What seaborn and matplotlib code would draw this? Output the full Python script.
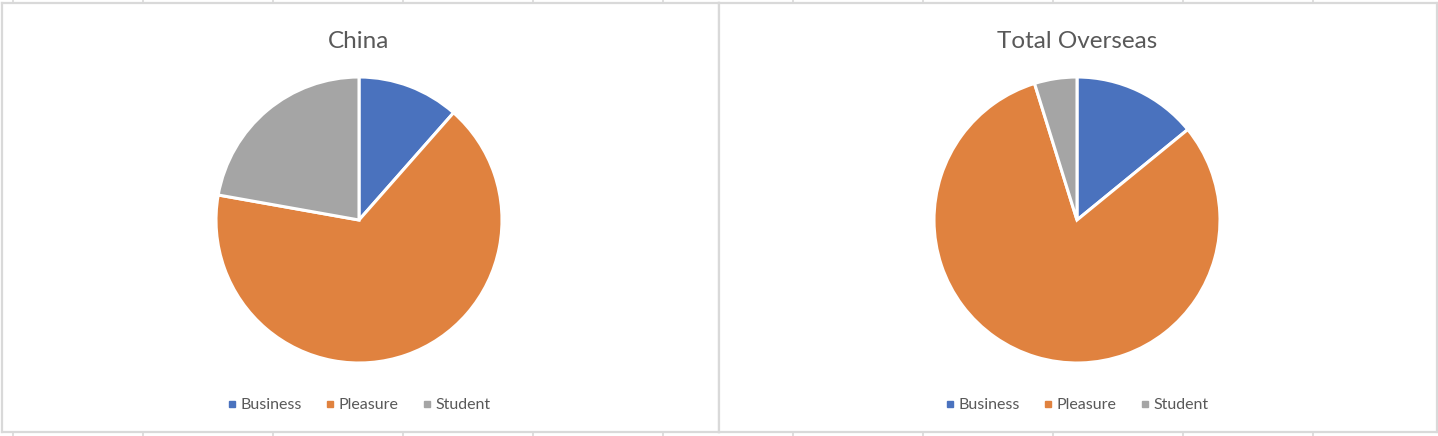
import numpy as np
import seaborn as sns
import matplotlib.pyplot as plt
from matplotlib.lines import Line2D

# data
categories = ['Business', 'Pleasure', 'Student']
china_share = [11.5, 66.3, 22.2]
overseas_share = [14.1, 81.1, 4.8]
panel_titles = ['China', 'Total Overseas']

colors = ['#4A72BE', '#E0823F', '#A5A5A5']
grid_color = '#D9D9D9'
text_color = '#595959'

sns.set_theme(style='white')
plt.rcParams['font.family'] = ['Lato', 'DejaVu Sans']

W, H = 1438, 436
fig = plt.figure(figsize=(W / 100, H / 100), dpi=100)
fig.patch.set_facecolor('white')

# spreadsheet cell lines peeking out above and below the chart boxes
bg = fig.add_axes([0, 0, 1, 1])
bg.set_xlim(0, W)
bg.set_ylim(H, 0)
bg.axis('off')
cols = np.arange(13, W, 130)
bg.vlines(cols, 0, 3, color=grid_color, lw=1.2)
bg.vlines(cols, 432, H, color=grid_color, lw=1.2)


def px_rect(x0, y0, x1, y1):
    return [x0 / W, 1 - y1 / H, (x1 - x0) / W, (y1 - y0) / H]


boxes = [(2, 3, 719, 432), (719, 3, 1437, 432)]
centers = [359, 1077]
radius = 143
cy = 220

handles = [Line2D([], [], marker='s', ls='', color=c, markersize=4.5) for c in colors]

for (x0, y0, x1, y1), cx, title, vals in zip(boxes, centers, panel_titles,
                                             [china_share, overseas_share]):
    box = fig.add_axes(px_rect(x0, y0, x1, y1))
    box.set_xticks([])
    box.set_yticks([])
    for s in box.spines.values():
        s.set_color(grid_color)
        s.set_linewidth(1.6)

    ax = fig.add_axes(px_rect(cx - radius, cy - radius, cx + radius, cy + radius))
    ax.pie(vals, colors=colors, startangle=90, counterclock=False, radius=1,
           wedgeprops=dict(edgecolor='white', linewidth=2.2, clip_on=False))
    ax.set_xlim(-1, 1)
    ax.set_ylim(-1, 1)
    ax.axis('off')

    fig.text(cx / W, 1 - 42 / H, title, ha='center', va='center',
             fontsize=17.5, color=text_color)

    fig.legend(handles, categories, loc='center', ncol=3,
               bbox_to_anchor=(cx / W, 1 - 405 / H), frameon=False,
               fontsize=11.5, labelcolor=text_color, handlelength=0.6,
               handletextpad=0.25, columnspacing=1.45, borderaxespad=0)

fig.savefig('out.png', dpi=100)
